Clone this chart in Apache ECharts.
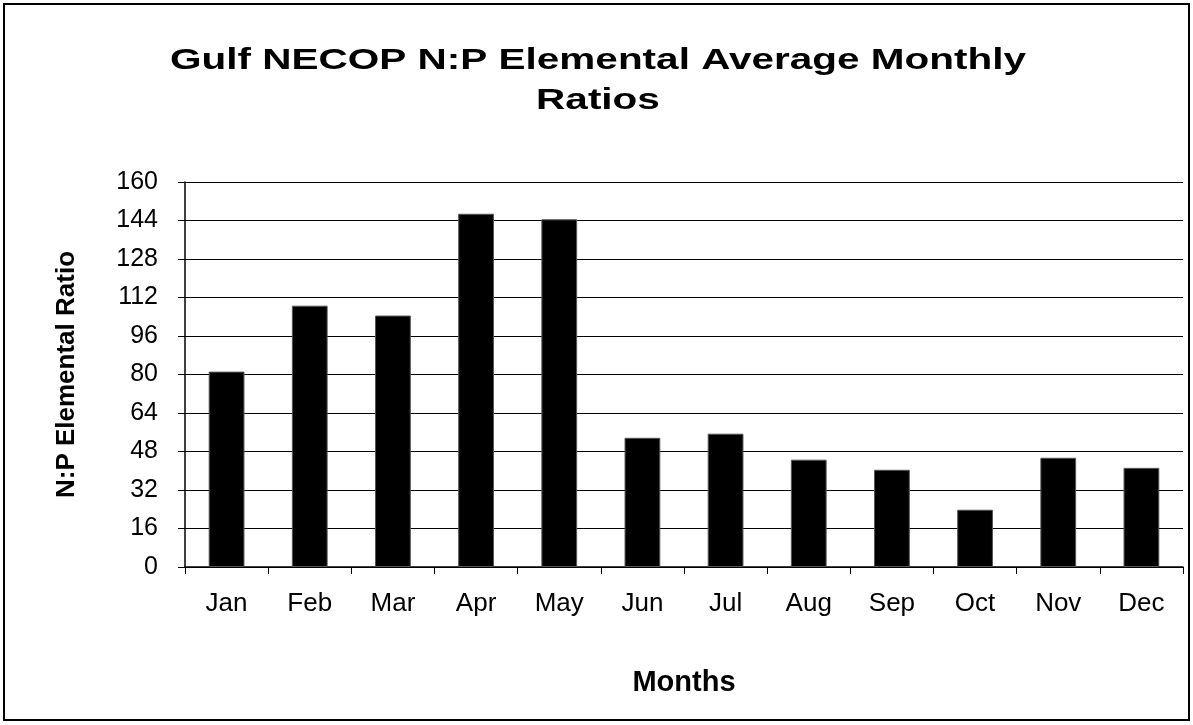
<!DOCTYPE html>
<html><head><meta charset="utf-8">
<script src="https://cdn.jsdelivr.net/npm/echarts@6/dist/echarts.min.js"></script>
<style>html,body{margin:0;padding:0;background:#fff}#c{width:1193px;height:725px}</style>
</head><body><div id="c"></div>
<script>
const months = ['Jan','Feb','Mar','Apr','May','Jun','Jul','Aug','Sep','Oct','Nov','Dec'];
const ratios = [81.2, 108.6, 104.5, 146.8, 144.5, 53.7, 55.4, 44.6, 40.4, 23.8, 45.4, 41.2];
const titleLines = ['Gulf NECOP N:P Elemental Average Monthly', 'Ratios'];
const xName = 'Months';
const yName = 'N:P Elemental Ratio';

const chart = echarts.init(document.getElementById('c'));
chart.setOption({
  animation: false,
  backgroundColor: '#fff',
  graphic: [
    {type:'rect', shape:{x:4,y:4,width:1185,height:716}, style:{fill:'none', stroke:'#000', lineWidth:2}},
    {type:'text', x:598, y:61, scaleX:1.35, style:{text:titleLines[0], fill:'#000', font:'bold 30px "Liberation Sans", Arial', textAlign:'center', textVerticalAlign:'middle'}},
    {type:'text', x:598, y:101, scaleX:1.35, style:{text:titleLines[1], fill:'#000', font:'bold 30px "Liberation Sans", Arial', textAlign:'center', textVerticalAlign:'middle'}}
  ],
  grid: {left: 185, right: 10, top: 182, bottom: 158, containLabel: false},
  xAxis: {type:'category', data: months, name: xName, nameLocation:'middle', nameGap: 101,
    nameTextStyle:{fontFamily:'Liberation Sans, Arial', fontWeight:'bold', fontSize:29, color:'#000'},
    axisLine:{lineStyle:{color:'#000', width:1.5}},
    axisTick:{show:true, alignWithLabel:false, length:7, lineStyle:{color:'#000'}},
    axisLabel:{fontFamily:'Liberation Sans, Arial', fontSize:26, color:'#000', margin:24}},
  yAxis: {type:'value', min:0, max:160, interval:16, name: yName, nameLocation:'middle', nameGap: 105,
    nameTextStyle:{fontFamily:'Liberation Sans, Arial', fontWeight:'bold', fontSize:26, color:'#000'},
    axisLine:{show:true, lineStyle:{color:'#000', width:1.5}},
    axisTick:{show:true, length:7, lineStyle:{color:'#000'}},
    axisLabel:{fontFamily:'Liberation Sans, Arial', fontSize:25, color:'#000', margin:27},
    splitLine:{lineStyle:{color:'#000', width:1}}},
  series: [{type:'bar', data: ratios, barWidth:'43%',
    itemStyle:{color:'#000', borderColor:'#555', borderWidth:1}}]
});
</script></body></html>
